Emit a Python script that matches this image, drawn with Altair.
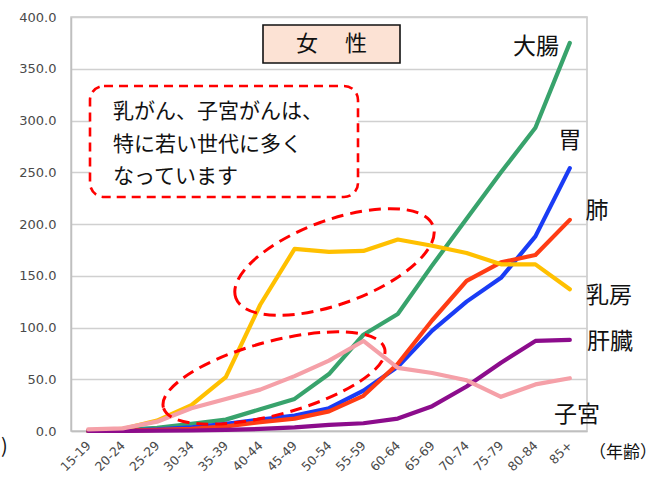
import altair as alt
import pandas as pd

# Age groups (x axis)
ages = ["15-19", "20-24", "25-29", "30-34", "35-39", "40-44", "45-49",
        "50-54", "55-59", "60-64", "65-69", "70-74", "75-79", "80-84", "85+"]

# Incidence per 100,000 women by site
colon = [0.3, 1.0, 3.0, 7.0, 11.0, 21.0, 31.0, 55.0, 93.0, 113.0, 160.0, 205.0, 250.0, 293.0, 375.0]
stomach = [0.1, 0.5, 1.5, 3.5, 7.0, 11.0, 15.0, 22.0, 39.0, 62.0, 97.0, 125.0, 148.0, 188.0, 254.0]
lung = [0.1, 0.3, 1.0, 2.0, 4.5, 8.5, 12.0, 19.0, 34.0, 65.0, 107.0, 145.0, 163.0, 170.0, 204.0]
breast = [0.3, 2.0, 10.0, 25.0, 52.0, 122.0, 176.0, 173.0, 174.0, 185.0, 179.0, 172.0, 161.0, 161.0, 137.0]
liver = [0.1, 0.1, 0.3, 0.5, 1.0, 2.0, 3.5, 6.0, 7.5, 12.0, 24.0, 43.0, 66.0, 87.0, 88.0]
uterus = [1.5, 2.5, 9.0, 22.0, 31.0, 40.0, 53.0, 68.0, 87.0, 61.0, 56.0, 49.0, 33.0, 45.0, 51.0]

series_names = ["大腸", "胃", "肺", "乳房", "肝臓", "子宮"]
series_values = [colon, stomach, lung, breast, liver, uterus]
series_colors = ["#38a36c", "#1a3cf5", "#ff3c14", "#ffc000", "#8c0c8c", "#f5a0a8"]

y_ticks = [0, 50, 100, 150, 200, 250, 300, 350, 400]

rows = []
for order, (name, vals) in enumerate(zip(series_names, series_values)):
    for age, v in zip(ages, vals):
        rows.append({"series": name, "age": age, "value": v, "k": order})
df = pd.DataFrame(rows)

JP = "Noto Sans CJK JP"

lines = alt.Chart(df).mark_line(strokeWidth=4.2, strokeCap="round", strokeJoin="round").encode(
    x=alt.X("age:N", sort=ages, scale=alt.Scale(padding=0.5),
            axis=alt.Axis(title=None, labelAngle=-45, labelAlign="right", labelBaseline="middle",
                          labelPadding=12, labelFont="DejaVu Sans", labelFontSize=12.5,
                          labelColor="#4a4a4a", ticks=False, domainColor="#bfbfbf",
                          domainWidth=1.5, grid=False)),
    y=alt.Y("value:Q", scale=alt.Scale(domain=[0, 400], nice=False),
            axis=alt.Axis(title=None, values=y_ticks, format=".1f", ticks=False,
                          labelFont="DejaVu Sans", labelFontSize=13, labelColor="#4a4a4a",
                          labelPadding=15, domainColor="#bfbfbf", domainWidth=1.5,
                          gridColor="#d0d0d0", gridWidth=1.5)),
    color=alt.Color("series:N", scale=alt.Scale(domain=series_names, range=series_colors), legend=None),
    detail="k:O",
)

anno = pd.DataFrame({"k": [0]})


def label(text, x, y, size=23, align="center", color="#111111"):
    return alt.Chart(anno).mark_text(
        text=text, font=JP, fontSize=size, align=align, baseline="middle", color=color
    ).encode(x=alt.value(x), y=alt.value(y))


# Title box "女 性"
title_box = alt.Chart(anno).mark_rect(fill="#fce2d4", stroke="#111111", strokeWidth=1.6).encode(
    x=alt.value(192), x2=alt.value(329), y=alt.value(8), y2=alt.value(46)
)
title_text = label("女　 性", 260.5, 27, size=22)

# Dashed note box
note_box = alt.Chart(anno).mark_rect(
    fill="white", stroke="#ff0000", strokeWidth=2.6, strokeDash=[9, 6], cornerRadius=14
).encode(x=alt.value(19), x2=alt.value(287), y=alt.value(69), y2=alt.value(180))
note_lines = ["乳がん、子宮がんは、", "特に若い世代に多く", "なっています"]
note_text = [label(t, 42, y, size=21, align="left") for t, y in zip(note_lines, [95, 128, 160])]


# Dashed ellipses around the young-age parts of the breast and uterus curves
def ellipse_path(ratio):
    k = 0.5523
    b = ratio
    return (f"M -1 0 C -1 {-k*b} {-k} {-b} 0 {-b} C {k} {-b} 1 {-k*b} 1 0 "
            f"C 1 {k*b} {k} {b} 0 {b} C {-k} {b} -1 {k*b} -1 0 Z")


def ellipse(cx, cy, width, ratio, angle):
    return alt.Chart(anno).mark_point(
        shape=ellipse_path(ratio), size=width * width, angle=angle, filled=False,
        stroke="#ff0000", strokeWidth=3, strokeDash=[12, 7], opacity=1
    ).encode(x=alt.value(cx), y=alt.value(cy))


ell_breast = ellipse(263.5, 245, 210, 0.40, 340)
ell_uterus = ellipse(203, 361, 229, 0.32, 345)

series_labels = [
    label("大腸", 465, 30),
    label("胃", 499, 124),
    label("肺", 526, 194),
    label("乳房", 538, 279),
    label("肝臓", 539, 325),
    label("子宮", 506, 398),
]

age_unit = label("（年齢）", 552, 436, size=17)
# closing bracket of the unit note for the y axis, at the left edge
rate_unit = label(")", -70, 430, size=20, align="left")

chart = alt.layer(
    title_box, title_text, note_box, *note_text, lines, ell_breast, ell_uterus,
    *series_labels, age_unit, rate_unit
).properties(
    width=516, height=414,
    autosize=alt.AutoSizeParams(type="none"),
    padding={"left": 71, "top": 17, "right": 71, "bottom": 53},
    background="white",
).configure_view(stroke="#c8c8c8", strokeWidth=1.5)

chart.save("out.html", embed_options={"renderer": "svg", "actions": False})
